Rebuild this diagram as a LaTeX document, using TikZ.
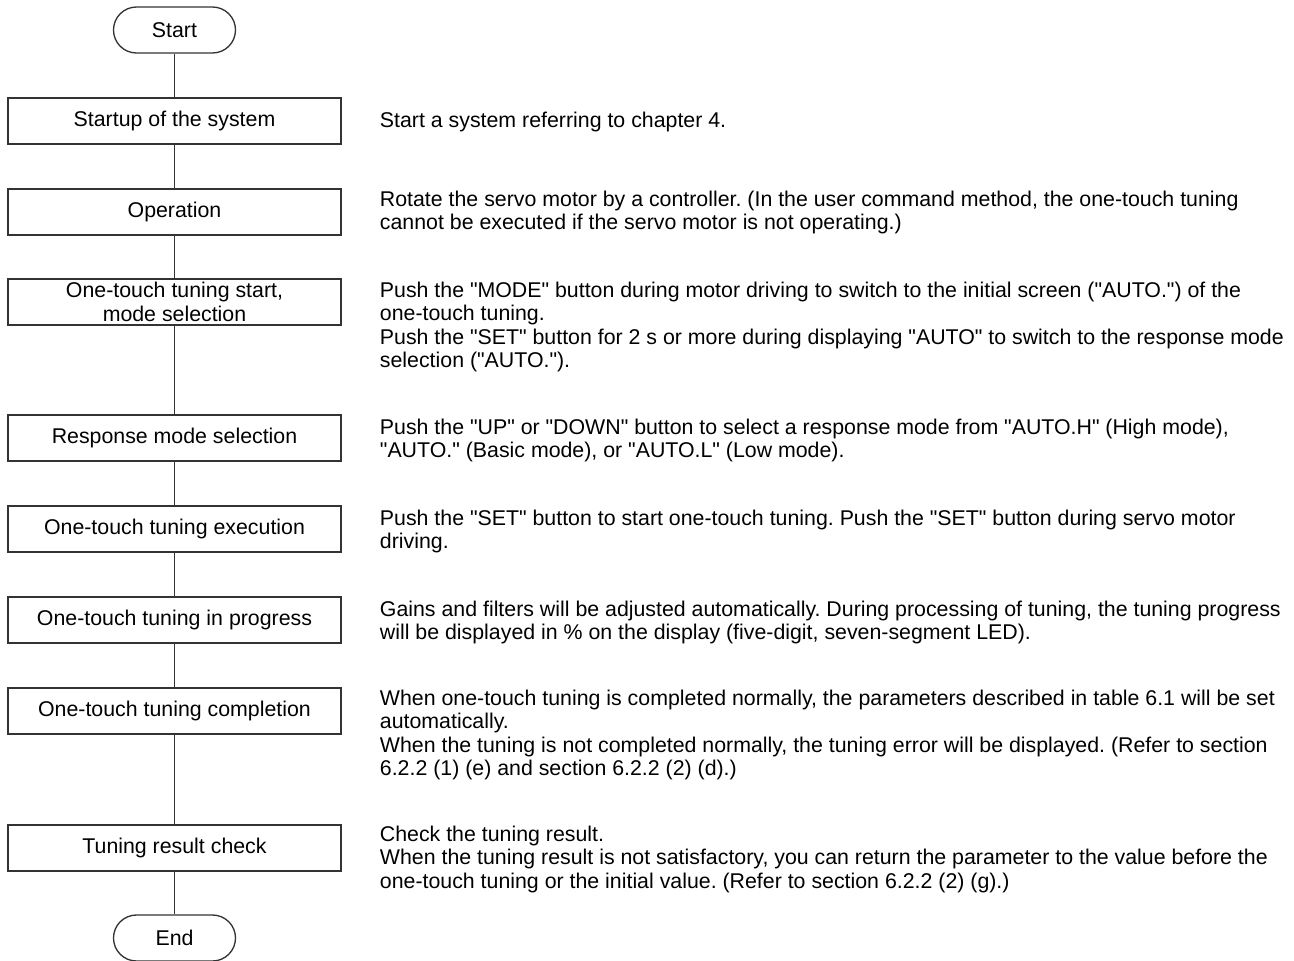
\documentclass[tikz,border=0pt]{standalone}
\usepackage{fontspec}
\setmainfont{Liberation Sans}[Ligatures=TeXOff]
\usetikzlibrary{calc}
\newcommand{\flowfont}{\fontsize{16}{17.5}\selectfont\frenchspacing}
\tikzset{
  stepbox/.style={draw=black!80,line width=1pt,minimum width=249.75pt,minimum height=34.5pt,
    inner sep=0pt,align=center,font=\flowfont},
  termbox/.style={stepbox,minimum width=91.5pt,rounded corners=17.25pt},
  desc/.style={anchor=north west,align=left,inner sep=0pt,font=\flowfont,
    execute at begin node=\strut},
  link/.style={draw=black!80,line width=1pt}
}

\begin{document}
\begin{tikzpicture}[x=0.75pt,y=-0.75pt]
\useasboundingbox (0,0) rectangle (1294,960);
% ---------- the flow of steps ----------
\node[termbox] (start) at (174.5,30) {Start};
\node[stepbox] (s1) at (174.5,121) {Startup of the system};
\node[stepbox] (s2) at (174.5,212) {Operation};
\node[stepbox] (s3) at (174.5,302) {One-touch tuning start,\\mode selection};
\node[stepbox] (s4) at (174.5,438) {Response mode selection};
\node[stepbox] (s5) at (174.5,529) {One-touch tuning execution};
\node[stepbox] (s6) at (174.5,620) {One-touch tuning in progress};
\node[stepbox] (s7) at (174.5,711) {One-touch tuning completion};
\node[stepbox] (s8) at (174.5,848) {Tuning result check};
\node[termbox] (end) at (174.5,938) {End};
\foreach \a/\b in {start/s1,s1/s2,s2/s3,s3/s4,s4/s5,s5/s6,s6/s7,s7/s8,s8/end}
  \draw[link] (\a) -- (\b);
% ---------- what is done at each step ----------
\node[desc] (d1) at ($(s1.north east)+(38,14)$) {Start a system referring to chapter 4.};
\node[desc] (d2) at ($(s2.north east)+(38,2.5)$)
  {Rotate the servo motor by a controller. (In the user command method, the one-touch tuning\\
   cannot be executed if the servo motor is not operating.)};
\node[desc] (d3) at ($(s3.north east)+(38,3.5)$)
  {Push the "MODE" button during motor driving to switch to the initial screen ("AUTO.") of the\\
   one-touch tuning.\\
   Push the "SET" button for 2 s or more during displaying "AUTO" to switch to the response mode\\
   selection ("AUTO.").};
\node[desc] (d4) at ($(s4.north east)+(38,4)$)
  {Push the "UP" or "DOWN" button to select a response mode from "AUTO.H" (High mode),\\
   "AUTO." (Basic mode), or "AUTO.L" (Low mode).};
\node[desc] (d5) at ($(s5.north east)+(38,4)$)
  {Push the "SET" button to start one-touch tuning. Push the "SET" button during servo motor\\
   driving.};
\node[desc] (d6) at ($(s6.north east)+(38,4)$)
  {Gains and filters will be adjusted automatically. During processing of tuning, the tuning progress\\
   will be displayed in \% on the display (five-digit, seven-segment LED).};
\node[desc] (d7) at ($(s7.north east)+(38,2.5)$)
  {When one-touch tuning is completed normally, the parameters described in table 6.1 will be set\\
   automatically.\\
   When the tuning is not completed normally, the tuning error will be displayed. (Refer to section\\
   6.2.2 (1) (e) and section 6.2.2 (2) (d).)};
\node[desc] (d8) at ($(s8.north east)+(38,1.5)$)
  {Check the tuning result.\\
   When the tuning result is not satisfactory, you can return the parameter to the value before the\\
   one-touch tuning or the initial value. (Refer to section 6.2.2 (2) (g).)};
\end{tikzpicture}
\end{document}
